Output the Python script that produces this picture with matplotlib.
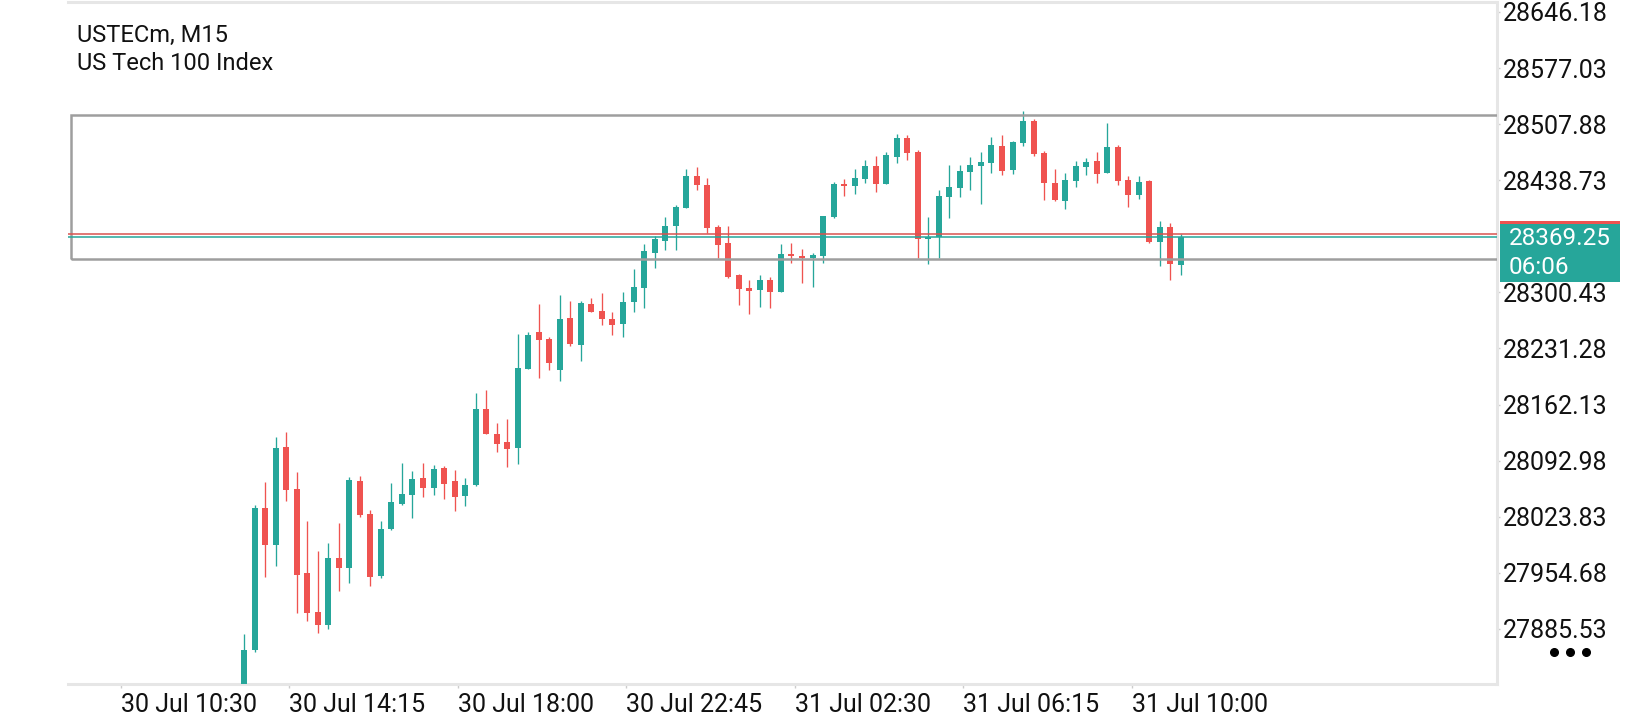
import pandas as pd
import matplotlib.pyplot as plt
from matplotlib.patches import Rectangle
from matplotlib.transforms import blended_transform_factory

plt.rcParams['font.family'] = ['Roboto', 'DejaVu Sans']

# Datos de las velas (USTECm, M15)
opens = [27800.0, 27859.6, 28035.1, 27989.1, 28110.3, 28058.1, 27954.6, 27906.5, 27890.5, 27973.1,
         27961.1, 28067.9, 28027.3, 27951.2, 28008.8, 28039.6, 28050.7, 28071.6, 28059.3, 28084.0,
         28067.9, 28049.8, 28063.0, 28156.7, 28125.9, 28116.0, 28109.0, 28206.4, 28251.6, 28243.0,
         28205.2, 28268.9, 28235.6, 28286.1, 28277.5, 28267.6, 28261.9, 28288.6, 28306.2, 28349.4,
         28364.2, 28382.3, 28404.8, 28443.9, 28432.4, 28380.7, 28361.3, 28321.9, 28305.9, 28303.8,
         28315.7, 28301.3, 28347.8, 28345.3, 28343.2, 28345.3, 28393.4, 28434.0, 28431.9, 28440.2,
         28456.2, 28434.4, 28467.7, 28490.8, 28473.5, 28366.5, 28369.1, 28418.4, 28429.5, 28449.2,
         28456.6, 28460.3, 28480.9, 28451.3, 28484.9, 28511.7, 28472.3, 28435.3, 28413.5, 28437.7,
         28455.4, 28462.4, 28448.0, 28479.6, 28439.0, 28420.9, 28437.7, 28362.9, 28381.0, 28334.6]
highs = [27879.4, 28038.4, 28067.1, 28122.6, 28128.7, 28079.4, 28018.7, 27981.7, 27991.2, 28015.8,
         28072.5, 28074.1, 28032.2, 28018.7, 28065.5, 28090.2, 28080.7, 28090.2, 28087.7, 28086.5,
         28081.5, 28071.6, 28176.0, 28180.1, 28139.5, 28144.4, 28249.2, 28251.6, 28286.1, 28245.1,
         28297.2, 28289.8, 28289.8, 28293.5, 28299.6, 28276.3, 28300.9, 28329.3, 28359.7, 28370.3,
         28393.4, 28408.2, 28452.5, 28455.0, 28441.1, 28383.1, 28382.3, 28322.5, 28315.7, 28321.9,
         28319.4, 28360.1, 28361.3, 28353.9, 28349.4, 28395.0, 28436.5, 28440.2, 28452.5, 28463.6,
         28468.6, 28473.5, 28495.7, 28494.5, 28476.0, 28393.8, 28426.7, 28457.5, 28457.5, 28467.3,
         28473.5, 28492.0, 28494.5, 28486.5, 28524.0, 28514.2, 28474.7, 28452.5, 28447.6, 28462.4,
         28466.1, 28473.5, 28509.2, 28482.1, 28443.9, 28443.9, 28439.0, 28388.5, 28386.0, 28372.4]
lows = [27795.0, 27857.6, 27950.0, 27963.6, 28043.3, 27905.6, 27895.8, 27880.2, 27885.2, 27932.7,
        27942.6, 28023.9, 27938.9, 27948.8, 28008.0, 28038.4, 28022.4, 28048.6, 28051.1, 28046.1,
        28031.4, 28037.2, 28062.0, 28125.5, 28103.3, 28085.6, 28089.3, 28205.5, 28195.3, 28205.2,
        28191.6, 28234.7, 28216.3, 28276.0, 28260.6, 28248.3, 28245.8, 28276.7, 28281.6, 28330.9,
        28352.7, 28352.7, 28404.0, 28427.0, 28373.3, 28343.2, 28318.6, 28285.3, 28274.2, 28282.8,
        28281.6, 28300.5, 28337.0, 28312.4, 28307.5, 28337.0, 28392.1, 28419.3, 28422.1, 28435.3,
        28424.6, 28433.5, 28460.3, 28463.6, 28343.2, 28335.1, 28342.5, 28391.8, 28418.4, 28426.7,
        28409.0, 28448.0, 28445.5, 28446.7, 28480.9, 28468.9, 28414.3, 28413.5, 28403.6, 28430.7,
        28445.5, 28435.6, 28447.5, 28433.2, 28406.1, 28415.9, 28361.7, 28333.4, 28316.1, 28322.3]
closes = [27859.6, 28035.1, 27989.1, 28109.0, 28056.9, 27952.5, 27905.6, 27890.5, 27973.1, 27961.1,
          28069.2, 28026.4, 27950.0, 28008.8, 28042.1, 28052.0, 28070.4, 28059.3, 28082.8, 28064.6,
          28048.6, 28063.0, 28156.7, 28125.5, 28113.9, 28107.4, 28207.6, 28247.9, 28242.1, 28213.8,
          28267.6, 28236.8, 28287.4, 28276.7, 28268.0, 28260.3, 28288.6, 28307.1, 28351.5, 28366.3,
          28382.3, 28405.3, 28443.9, 28433.2, 28380.2, 28359.3, 28319.8, 28305.0, 28302.5, 28315.7,
          28301.3, 28347.8, 28345.3, 28343.2, 28346.5, 28394.6, 28434.0, 28431.9, 28441.4, 28456.2,
          28434.4, 28469.8, 28490.8, 28472.6, 28366.6, 28367.5, 28419.3, 28430.0, 28450.1, 28457.5,
          28461.2, 28482.1, 28450.4, 28485.8, 28511.7, 28471.4, 28435.6, 28414.7, 28439.0, 28456.2,
          28461.2, 28446.7, 28479.6, 28438.1, 28420.9, 28436.5, 28362.9, 28381.0, 28335.8, 28369.25]

# Etiquetas del eje de tiempo y del eje de precios
time_labels = ['30 Jul 10:30', '30 Jul 14:15', '30 Jul 18:00', '30 Jul 22:45',
               '31 Jul 02:30', '31 Jul 06:15', '31 Jul 10:00']
price_ticks = [27885.53, 27954.68, 28023.83, 28092.98, 28162.13, 28231.28,
               28300.43, 28438.73, 28507.88, 28577.03, 28646.18]

# Niveles dibujados sobre el grafico
bid = 28369.25
ask = 28373.0
box_top = 28519.1
box_bottom = 28341.6
countdown = '06:06'

data = pd.DataFrame({'open': opens, 'high': highs, 'low': lows, 'close': closes})
data['up'] = data['close'] >= data['open']

TEAL = '#26a69a'
RED = '#ef5350'
GRID = '#e6e6e6'

fig = plt.figure(figsize=(16.4, 7.2), dpi=100)
ax = fig.add_axes([68 / 1640, 36 / 720, 1429 / 1640, 682 / 720])

# Velas: mechas y cuerpos
colors = [TEAL if u else RED for u in data['up']]
ax.vlines(data.index, data['low'], data['high'], colors=colors, linewidth=0.95, zorder=2)
body_low = data[['open', 'close']].min(axis=1)
body_h = (data['close'] - data['open']).abs().clip(lower=1.6)
ax.bar(data.index, body_h, bottom=body_low, width=0.57, color=colors, linewidth=0, zorder=3)

# Rectangulo gris y lineas de precio
ax.add_patch(Rectangle((-16.46, box_bottom), 150, box_top - box_bottom, fill=False,
                       edgecolor='#9e9e9e', linewidth=1.8, zorder=4))
ax.axhline(ask, color='#d9534f', linewidth=1.1, zorder=5)
ax.axhline(bid, color=TEAL, linewidth=1.1, zorder=5)

ax.set_xlim(-16.72, 119.02)
ax.set_ylim(27817.7, 28658.4)

# Ejes
for side in ['top', 'right', 'bottom']:
    ax.spines[side].set_color(GRID)
    ax.spines[side].set_linewidth(2.2)
ax.spines['left'].set_visible(False)

ax.yaxis.tick_right()
ax.set_yticks(price_ticks)
ax.set_yticklabels(['%.2f' % v for v in price_ticks])
ax.tick_params(axis='y', length=2.5, width=1, color='#cccccc', pad=1.5,
               labelsize=18, labelcolor='#111111')

ax.set_xticks([-11.68 + 16 * i for i in range(len(time_labels))])
ax.set_xticklabels(time_labels)
for lbl in ax.get_xticklabels():
    lbl.set_horizontalalignment('left')
ax.tick_params(axis='x', length=3, width=1, color='#cccccc', pad=3.5,
               labelsize=18, labelcolor='#111111')

# Etiqueta del precio actual a la derecha
tr = blended_transform_factory(ax.transAxes, ax.transData)
ax.add_patch(Rectangle((1.0021, ask - 56.5), 0.0840, 72.1, transform=tr,
                       facecolor=RED, edgecolor='none', clip_on=False, zorder=6))
ax.add_patch(Rectangle((1.0021, bid - 56.5), 0.0840, 72.1, transform=tr,
                       facecolor=TEAL, edgecolor='none', clip_on=False, zorder=7))
ax.text(1.0084, bid - 2.8, '%.2f' % bid, transform=tr, color='white', fontsize=17.5,
        va='center', ha='left', zorder=8, clip_on=False)
ax.text(1.0084, bid - 38.0, countdown, transform=tr, color='white', fontsize=17.5,
        va='center', ha='left', zorder=8, clip_on=False)

# Titulo
fig.text(77 / 1640, 1 - 42 / 720, 'USTECm, M15', fontsize=17, color='#111111', va='baseline')
fig.text(77 / 1640, 1 - 70 / 720, 'US Tech 100 Index', fontsize=17, color='#111111', va='baseline')

# Menu de tres puntos
fig.add_artist(plt.Line2D([1554 / 1640, 1570 / 1640, 1586 / 1640], [1 - 652 / 720] * 3,
                          transform=fig.transFigure, linestyle='none', marker='o',
                          markersize=5.5, color='black'))

fig.savefig('out.png', dpi=100)
